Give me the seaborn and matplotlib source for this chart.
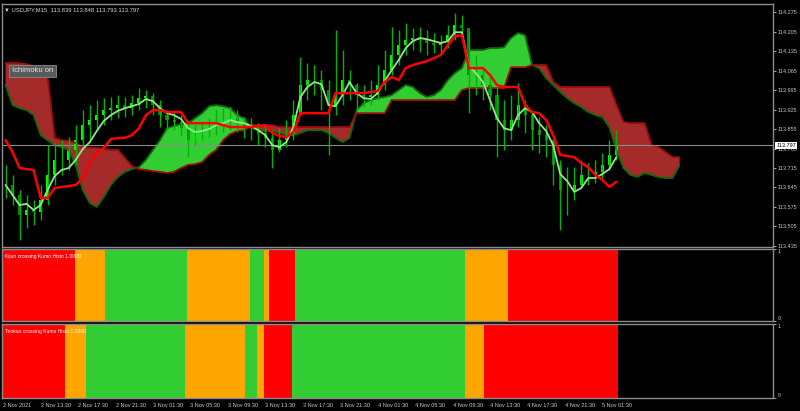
import numpy as np
import matplotlib
matplotlib.use("Agg")
import matplotlib.pyplot as plt
import matplotlib.transforms as mtransforms
import seaborn as sns

# --- Données (USDJPY M15) ---
# une bougie = 3 barres M15
highs = np.array([113.726, 113.690, 113.636, 113.618, 113.600, 113.654, 113.797, 113.805, 113.815, 113.826,
                  113.869, 113.923, 113.941, 113.959, 113.966, 113.970, 113.977, 113.970, 113.977, 114.002,
                  113.995, 113.984, 113.959, 113.923, 113.916, 113.905, 113.887, 113.869, 113.876, 113.894,
                  113.923, 113.930, 113.934, 113.923, 113.898, 113.894, 113.876, 113.869, 113.851, 113.858,
                  113.887, 113.959, 114.113, 114.092, 114.085, 114.067, 114.031, 114.210, 114.139, 114.067,
                  114.020, 114.013, 114.031, 114.085, 114.139, 114.221, 114.210, 114.235, 114.217, 114.221,
                  114.210, 114.200, 114.192, 114.228, 114.271, 114.264, 114.210, 114.121, 114.077, 114.049,
                  114.006, 113.959, 113.977, 114.020, 113.959, 113.923, 113.898, 113.869, 113.815, 113.744,
                  113.718, 113.718, 113.744, 113.733, 113.744, 113.769, 113.815, 113.851])
lows = np.array([113.607, 113.582, 113.456, 113.499, 113.510, 113.528, 113.582, 113.654, 113.690, 113.708,
                 113.726, 113.780, 113.815, 113.851, 113.869, 113.887, 113.894, 113.898, 113.905, 113.923,
                 113.930, 113.905, 113.862, 113.851, 113.851, 113.833, 113.754, 113.797, 113.815, 113.826,
                 113.833, 113.844, 113.851, 113.844, 113.823, 113.815, 113.797, 113.790, 113.715, 113.772,
                 113.790, 113.815, 113.905, 113.959, 113.977, 113.923, 113.762, 113.905, 113.941, 113.959,
                 113.923, 113.934, 113.941, 113.959, 113.995, 114.049, 114.085, 114.121, 114.139, 114.131,
                 114.121, 114.128, 114.121, 114.146, 114.174, 114.182, 113.912, 113.977, 113.959, 113.923,
                 113.754, 113.780, 113.815, 113.862, 113.841, 113.780, 113.769, 113.754, 113.654, 113.492,
                 113.547, 113.600, 113.647, 113.654, 113.661, 113.672, 113.708, 113.744])
closes = np.array([113.654, 113.618, 113.546, 113.564, 113.557, 113.600, 113.690, 113.744, 113.744, 113.780,
                   113.815, 113.869, 113.887, 113.905, 113.923, 113.930, 113.941, 113.930, 113.948, 113.966,
                   113.973, 113.941, 113.905, 113.887, 113.880, 113.858, 113.815, 113.833, 113.851, 113.862,
                   113.880, 113.887, 113.894, 113.880, 113.862, 113.858, 113.841, 113.823, 113.780, 113.815,
                   113.833, 113.905, 114.013, 114.031, 114.031, 113.995, 113.941, 113.977, 114.031, 114.013,
                   113.977, 113.970, 113.977, 114.013, 114.067, 114.121, 114.156, 114.174, 114.182, 114.174,
                   114.164, 114.156, 114.167, 114.192, 114.228, 114.217, 114.049, 114.049, 114.013, 113.977,
                   113.887, 113.851, 113.887, 113.941, 113.905, 113.851, 113.833, 113.815, 113.726, 113.636,
                   113.636, 113.654, 113.690, 113.690, 113.701, 113.726, 113.762, 113.797])

tenkan = np.array([113.654, 113.618, 113.582, 113.586, 113.564, 113.582, 113.636, 113.686, 113.708, 113.715,
                   113.744, 113.783, 113.808, 113.848, 113.884, 113.905, 113.920, 113.930, 113.937, 113.945,
                   113.963, 113.955, 113.930, 113.912, 113.905, 113.891, 113.858, 113.844, 113.848, 113.855,
                   113.869, 113.876, 113.887, 113.880, 113.876, 113.866, 113.851, 113.833, 113.797, 113.790,
                   113.808, 113.862, 113.970, 114.006, 114.024, 114.016, 113.941, 113.937, 113.977, 114.024,
                   113.984, 113.966, 113.963, 113.984, 114.027, 114.067, 114.103, 114.146, 114.171, 114.182,
                   114.178, 114.171, 114.164, 114.171, 114.203, 114.203, 114.081, 114.056, 114.024, 113.959,
                   113.894, 113.858, 113.851, 113.905, 113.930, 113.916, 113.876, 113.848, 113.797, 113.693,
                   113.668, 113.629, 113.643, 113.679, 113.679, 113.693, 113.711, 113.754])
kijun = np.array([113.815, 113.772, 113.715, 113.711, 113.708, 113.607, 113.607, 113.643, 113.647, 113.650,
                  113.654, 113.679, 113.736, 113.769, 113.787, 113.819, 113.823, 113.823, 113.833, 113.858,
                  113.905, 113.923, 113.923, 113.916, 113.916, 113.916, 113.876, 113.876, 113.876, 113.876,
                  113.876, 113.869, 113.862, 113.862, 113.862, 113.862, 113.866, 113.869, 113.841, 113.830,
                  113.826, 113.844, 113.912, 113.912, 113.912, 113.912, 113.912, 113.984, 113.984, 113.984,
                  113.984, 113.984, 113.988, 113.991, 114.024, 114.042, 114.031, 114.074, 114.085, 114.092,
                  114.099, 114.110, 114.121, 114.156, 114.189, 114.192, 114.074, 114.074, 114.074, 114.049,
                  114.013, 114.006, 114.006, 114.006, 113.941, 113.916, 113.912, 113.887, 113.833, 113.762,
                  113.758, 113.754, 113.733, 113.718, 113.690, 113.672, 113.647, 113.665])

# Nuage (Senkou Span A / B), décalé de 26 barres vers l'avant
span_a = np.array([114.013, 113.941, 113.930, 113.923, 113.905, 113.833, 113.815, 113.797, 113.790, 113.780,
                   113.726, 113.636, 113.589, 113.575, 113.611, 113.654, 113.683, 113.701, 113.711, 113.718,
                   113.744, 113.780, 113.815, 113.858, 113.866, 113.873, 113.876, 113.894, 113.912, 113.937,
                   113.941, 113.937, 113.930, 113.905, 113.894, 113.858, 113.851, 113.848, 113.848, 113.841,
                   113.833, 113.833, 113.841, 113.851, 113.851, 113.851, 113.841, 113.823, 113.808, 113.823,
                   113.923, 113.948, 113.959, 113.966, 113.970, 113.977, 113.995, 114.013, 114.006, 113.984,
                   113.970, 113.977, 113.995, 114.031, 114.056, 114.074, 114.139, 114.139, 114.139, 114.146,
                   114.146, 114.149, 114.182, 114.200, 114.192, 114.085, 114.074, 114.038, 114.013, 113.988,
                   113.966, 113.948, 113.934, 113.916, 113.905, 113.898, 113.862, 113.780, 113.715, 113.690,
                   113.683, 113.697, 113.690, 113.683, 113.679, 113.679, 113.726])
span_b = np.array([114.092, 114.092, 114.092, 114.088, 114.081, 114.060, 114.038, 113.823, 113.815, 113.812,
                   113.805, 113.790, 113.787, 113.787, 113.783, 113.780, 113.780, 113.751, 113.722, 113.711,
                   113.708, 113.704, 113.701, 113.697, 113.701, 113.715, 113.726, 113.729, 113.736, 113.762,
                   113.780, 113.815, 113.837, 113.848, 113.851, 113.869, 113.869, 113.869, 113.869, 113.862,
                   113.862, 113.862, 113.862, 113.862, 113.862, 113.862, 113.862, 113.862, 113.862, 113.862,
                   113.912, 113.912, 113.912, 113.912, 113.912, 113.959, 113.959, 113.959, 113.959, 113.959,
                   113.959, 113.959, 113.959, 113.959, 113.959, 113.995, 114.002, 114.002, 114.002, 114.002,
                   114.002, 114.002, 114.077, 114.077, 114.077, 114.085, 114.085, 114.085, 114.024, 114.006,
                   114.006, 114.006, 114.006, 114.006, 114.006, 114.006, 114.006, 113.941, 113.880, 113.876,
                   113.876, 113.876, 113.797, 113.790, 113.772, 113.754, 113.754])

last_price = 113.797
price_ticks = [113.435, 113.505, 113.575, 113.645, 113.715, 113.785, 113.855,
               113.925, 113.995, 114.065, 114.135, 114.205, 114.275]

# Histogrammes : (état, nombre de barres) ; 0 = rouge, 1 = orange, 2 = vert
kijun_runs = [(0, 31), (1, 13), (2, 35), (1, 27), (2, 6), (1, 2), (0, 11), (2, 73), (1, 18), (0, 47)]
tenkan_runs = [(0, 27), (1, 9), (2, 42), (1, 26), (2, 5), (1, 3), (0, 12), (2, 74), (1, 8), (0, 57)]
histo_colors = ["#ff0000", "#ffa500", "#32cd32"]

time_labels = ["2 Nov 2021", "2 Nov 13:30", "2 Nov 17:30", "2 Nov 21:30", "3 Nov 01:30", "3 Nov 05:30",
               "3 Nov 09:30", "3 Nov 13:30", "3 Nov 17:30", "3 Nov 21:30", "4 Nov 01:30", "4 Nov 05:30",
               "4 Nov 09:30", "4 Nov 13:30", "4 Nov 17:30", "4 Nov 21:30", "5 Nov 01:30"]
bars_per_label = 16
bars_per_candle = 3

# --- Style ---
sns.set_style("dark", {"axes.facecolor": "black", "figure.facecolor": "black",
                       "axes.edgecolor": "#8c8c8c", "axes.grid": False})
plt.rcParams["font.family"] = ["Liberation Sans", "DejaVu Sans"]
txt_col = "#c8c8c8"

fig = plt.figure(figsize=(8, 4.11), dpi=100)
ax = fig.add_axes([0.0025, 0.399, 0.964, 0.591])
ax1 = fig.add_axes([0.0025, 0.219, 0.964, 0.175], sharex=ax)
ax2 = fig.add_axes([0.0025, 0.0316, 0.964, 0.180], sharex=ax)
xlim = (-0.5, 329)

# --- Panneau principal ---
xk = np.arange(len(span_a)) * bars_per_candle + 1
ax.fill_between(xk, span_a, span_b, where=span_a >= span_b, interpolate=True, color="#32cd32", lw=0)
ax.fill_between(xk, span_a, span_b, where=span_a < span_b, interpolate=True, color="#a52a2a", lw=0)
ax.plot(xk, span_a, color="#0d6b0d", lw=1.3)
ax.plot(xk, span_b, color="#a00d0d", lw=1.3)

ax.axhline(last_price, color="#8c8c8c", lw=0.8)

xc = np.arange(len(closes)) * bars_per_candle + 1
opens = np.r_[closes[0], closes[:-1]]
ax.vlines(xc, lows, highs, color="#00b400", lw=1.0)
body_cols = np.where(closes >= opens, "#00ff00", "#008c00")
ax.bar(xc, closes - opens, bottom=opens, width=1.3, color=body_cols, lw=0)

sns.lineplot(x=xc, y=tenkan, ax=ax, color="#8fe88a", lw=1.3)
sns.lineplot(x=xc, y=kijun, ax=ax, color="#ff0000", lw=1.8)

ax.set_xlim(*xlim)
ax.set_ylim(113.431, 114.304)
ax.yaxis.tick_right()
ax.set_yticks(price_ticks)
ax.set_yticklabels([f"{p:.3f}" for p in price_ticks])
ax.tick_params(axis="y", colors=txt_col, labelsize=4, length=2, width=0.6, pad=1.5, right=True)
ax.tick_params(axis="x", bottom=False, labelbottom=False)
ax.set_ylabel("")

ax.text(0.003, 0.985, "\u25bc USDJPY,M15  113.839 113.848 113.793 113.797", transform=ax.transAxes,
        fontsize=4.2, color="#d8d8d8", va="top", ha="left")
ax.text(0.013, 0.725, "Ichimoku on", transform=ax.transAxes, fontsize=5.5, color="#e6e6e6",
        va="center", ha="left",
        bbox=dict(boxstyle="square,pad=0.35", facecolor="#5a5a5a", edgecolor="#8a8a8a", lw=0.6))
trans = mtransforms.blended_transform_factory(ax.transAxes, ax.transData)
ax.text(1.004, last_price, f"{last_price:.3f}", transform=trans, fontsize=4, color="black",
        va="center", ha="left",
        bbox=dict(boxstyle="square,pad=0.2", facecolor="white", edgecolor="white", lw=0))

# --- Histogrammes ---
def draw_histo(axh, runs, title):
    states = np.concatenate([[s] * n for s, n in runs])
    bars = np.arange(len(states))
    axh.bar(bars, 1, width=1.0, color=[histo_colors[s] for s in states], lw=0, align="center")
    axh.set_ylim(0, 1)
    axh.yaxis.tick_right()
    axh.set_yticks([0, 1])
    axh.set_yticklabels(["0", "1"])
    for lab, va in zip(axh.get_yticklabels(), ["bottom", "top"]):
        lab.set_va(va)
    axh.tick_params(axis="y", colors=txt_col, labelsize=4, length=2, width=0.6, pad=1.5)
    axh.text(0.004, 0.93, title, transform=axh.transAxes, fontsize=3.6, color="white",
             va="top", ha="left")

draw_histo(ax1, kijun_runs, "Kijun crossing Kumo Histo 1.0000")
draw_histo(ax2, tenkan_runs, "Tenkan crossing Kumo Histo 1.0000")
ax1.tick_params(axis="x", bottom=False, labelbottom=False)

label_bars = np.arange(len(time_labels)) * bars_per_label
ax2.set_xticks(label_bars)
ax2.set_xticklabels(time_labels, ha="left")
ax2.tick_params(axis="x", colors=txt_col, labelsize=4, length=2, width=0.6, pad=1.5)
ax2.set_xlim(*xlim)

for a in (ax, ax1, ax2):
    for sp in a.spines.values():
        sp.set_color("#8c8c8c")
        sp.set_linewidth(1.0)

fig.savefig("out.png", dpi=100, facecolor="black")
